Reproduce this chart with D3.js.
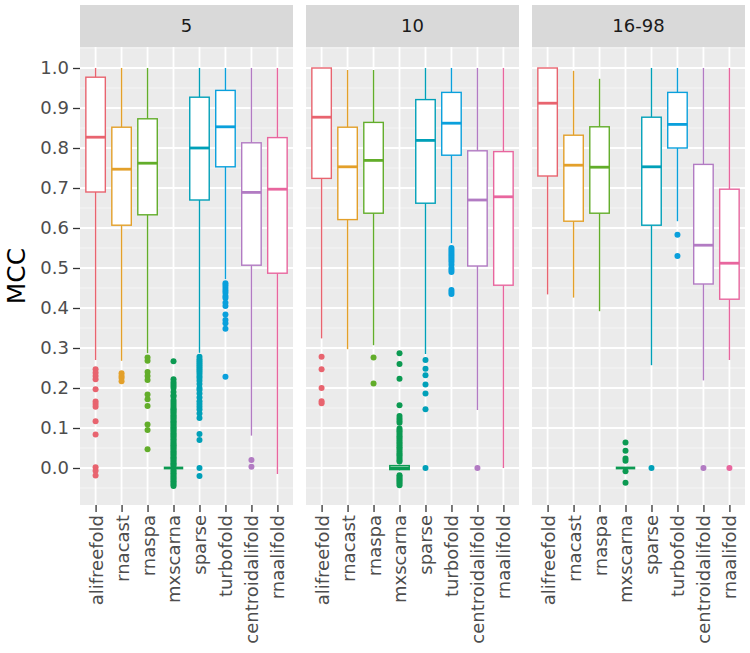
<!DOCTYPE html>
<html>
<head>
<meta charset="utf-8">
<script src="https://cdn.jsdelivr.net/npm/d3@7"></script>
<style>
  html, body { margin: 0; padding: 0; background: #fff; }
  svg { display: block; }
  text { font-family: "DejaVu Sans", sans-serif; }
</style>
</head>
<body>
<svg id="chart" width="750" height="653"></svg>
<script>
// ---------- data ----------
const methods = ["alifreefold", "rnacast", "rnaspa", "mxscarna", "sparse", "turbofold", "centroidalifold", "rnaalifold"];
const facets = ["5", "10", "16-98"];
const colors = ["#E8646F", "#E3A02A", "#62AD2A", "#0C9A52", "#00A0B8", "#0AA0DC", "#B27BC3", "#E8669E"];
const yTicks = [0.0, 0.1, 0.2, 0.3, 0.4, 0.5, 0.6, 0.7, 0.8, 0.9, 1.0];

// [lower whisker, Q1, median, Q3, upper whisker] per method
const stats5 = [
  [0.270, 0.690, 0.827, 0.977, 1.000],
  [0.268, 0.607, 0.747, 0.852, 1.000],
  [0.287, 0.633, 0.762, 0.873, 1.000],
  [0.000, 0.000, 0.000, 0.000, 0.000],
  [0.288, 0.670, 0.800, 0.927, 1.000],
  [0.472, 0.753, 0.853, 0.944, 1.000],
  [0.081, 0.507, 0.689, 0.813, 1.000],
  [-0.015, 0.487, 0.697, 0.826, 1.000]
];
const stats10 = [
  [0.324, 0.724, 0.877, 1.000, 1.000],
  [0.297, 0.621, 0.753, 0.852, 0.995],
  [0.307, 0.637, 0.769, 0.864, 0.995],
  [-0.006, -0.004, 0.000, 0.006, 0.008],
  [0.285, 0.662, 0.819, 0.921, 1.000],
  [0.562, 0.782, 0.862, 0.939, 1.000],
  [0.145, 0.505, 0.670, 0.793, 1.000],
  [0.000, 0.457, 0.678, 0.791, 1.000]
];
const stats16 = [
  [0.434, 0.730, 0.912, 1.000, 1.000],
  [0.426, 0.617, 0.757, 0.832, 0.993],
  [0.392, 0.637, 0.752, 0.853, 0.973],
  [0.000, 0.000, 0.000, 0.000, 0.000],
  [0.257, 0.607, 0.753, 0.877, 1.000],
  [0.617, 0.800, 0.859, 0.939, 1.000],
  [0.219, 0.460, 0.557, 0.759, 1.000],
  [0.270, 0.422, 0.512, 0.697, 1.000]
];

// outliers per method
const outliers5 = [
  [0.247, 0.238, 0.230, 0.222, 0.197, 0.166, 0.160, 0.153, 0.117, 0.084, 0.002, -0.007, -0.019],
  [0.237, 0.230, 0.225, 0.217],
  [0.276, 0.268, 0.240, 0.230, 0.220, 0.184, 0.172, 0.155, 0.109, 0.095, 0.047],
  [0.267, 0.222, 0.215, 0.210, 0.205, 0.200, 0.190, 0.182, 0.178, 0.170, 0.165, 0.160, 0.155, 0.150, 0.147, 0.143, 0.140, 0.136, 0.132, 0.128, 0.125, 0.121, 0.117, 0.114, 0.110, 0.106, 0.102, 0.099, 0.095, 0.091, 0.087, 0.083, 0.080, 0.076, 0.072, 0.068, 0.064, 0.060, 0.057, 0.053, 0.050, 0.046, 0.042, 0.038, 0.035, 0.031, 0.027, 0.024, 0.020, 0.016, 0.012, 0.009, 0.005, -0.005, -0.009, -0.013, -0.017, -0.021, -0.025, -0.029, -0.033, -0.037, -0.041, -0.045],
  [0.278, 0.272, 0.267, 0.262, 0.257, 0.252, 0.247, 0.242, 0.236, 0.230, 0.225, 0.218, 0.210, 0.200, 0.195, 0.186, 0.176, 0.167, 0.160, 0.153, 0.146, 0.136, 0.125, 0.085, 0.070, 0.000, -0.020],
  [0.462, 0.456, 0.450, 0.444, 0.438, 0.430, 0.425, 0.413, 0.405, 0.384, 0.370, 0.362, 0.348, 0.228],
  [0.020, 0.003],
  []
];
const outliers10 = [
  [0.278, 0.247, 0.200, 0.167, 0.162],
  [],
  [0.276, 0.211],
  [0.287, 0.260, 0.223, 0.157, 0.130, 0.124, 0.118, 0.113, 0.099, 0.094, 0.090, 0.085, 0.080, 0.076, 0.071, 0.066, 0.062, 0.057, 0.052, 0.048, 0.043, 0.038, 0.034, 0.030, 0.025, 0.020, 0.016, -0.018, -0.022, -0.026, -0.030, -0.034, -0.038, -0.043],
  [0.270, 0.248, 0.232, 0.209, 0.186, 0.147, 0.000],
  [0.550, 0.545, 0.540, 0.535, 0.530, 0.525, 0.520, 0.515, 0.508, 0.500, 0.495, 0.490, 0.445, 0.440, 0.435],
  [0.000],
  []
];
const outliers16 = [
  [],
  [],
  [],
  [0.064, 0.043, 0.024, 0.018, -0.008, -0.037],
  [0.000],
  [0.583, 0.530],
  [0.000],
  [0.000]
];

const facetStats = [stats5, stats10, stats16];
const facetOutliers = [outliers5, outliers10, outliers16];

// ---------- layout ----------
const svg = d3.select("#chart");
const panelLeft = [80, 306, 532];
const panelW = 213;
const stripTop = 5, stripH = 42;
const plotTop = 47, plotBottom = 505;

const y = d3.scaleLinear().domain([-0.0925, 1.0525]).range([plotBottom, plotTop]);
const minorTicks = [-0.05, 0.05, 0.15, 0.25, 0.35, 0.45, 0.55, 0.65, 0.75, 0.85, 0.95, 1.05];

facets.forEach((f, fi) => {
  const x0 = panelLeft[fi];
  const x = d3.scalePoint().domain(methods).range([x0, x0 + panelW]).padding(0.6);
  const bw = x.step() * 0.75;
  const g = svg.append("g");

  // panel background
  g.append("rect").attr("x", x0).attr("y", plotTop).attr("width", panelW).attr("height", plotBottom - plotTop).attr("fill", "#EBEBEB");
  // minor grid
  g.selectAll(".minor").data(minorTicks.filter(v => y(v) > plotTop && y(v) < plotBottom)).join("line")
    .attr("x1", x0).attr("x2", x0 + panelW).attr("y1", d => y(d)).attr("y2", d => y(d))
    .attr("stroke", "#F5F5F5").attr("stroke-width", 1);
  // major grid
  g.selectAll(".major").data(yTicks).join("line")
    .attr("x1", x0).attr("x2", x0 + panelW).attr("y1", d => y(d)).attr("y2", d => y(d))
    .attr("stroke", "#FFFFFF").attr("stroke-width", 1.8);
  g.selectAll(".vgrid").data(methods).join("line")
    .attr("x1", d => x(d)).attr("x2", d => x(d)).attr("y1", plotTop).attr("y2", plotBottom)
    .attr("stroke", "#FFFFFF").attr("stroke-width", 1.8);

  // strip
  g.append("rect").attr("x", x0).attr("y", stripTop).attr("width", panelW).attr("height", stripH).attr("fill", "#D9D9D9");
  g.append("text").attr("x", x0 + panelW / 2).attr("y", stripTop + stripH / 2).attr("dy", "0.36em")
    .attr("text-anchor", "middle").attr("font-size", 18).attr("fill", "#1A1A1A").text(f);

  const stats = facetStats[fi];
  const outs = facetOutliers[fi];

  methods.forEach((m, mi) => {
    const [lo, q1, med, q3, hi] = stats[mi];
    const col = colors[mi];
    const cx = x(m);
    const bg = g.append("g");
    // outliers
    bg.selectAll("circle").data(outs[mi]).join("circle")
      .attr("cx", cx).attr("cy", d => y(d)).attr("r", 3).attr("fill", col);
    // whiskers
    bg.append("line").attr("x1", cx).attr("x2", cx).attr("y1", y(q3)).attr("y2", y(hi))
      .attr("stroke", col).attr("stroke-width", 1.4);
    bg.append("line").attr("x1", cx).attr("x2", cx).attr("y1", y(q1)).attr("y2", y(lo))
      .attr("stroke", col).attr("stroke-width", 1.4);
    // box
    bg.append("rect").attr("x", cx - bw / 2).attr("y", y(q3)).attr("width", bw)
      .attr("height", Math.max(0, y(q1) - y(q3)))
      .attr("fill", "#FFFFFF").attr("stroke", col).attr("stroke-width", 1.4);
    // median
    bg.append("line").attr("x1", cx - bw / 2).attr("x2", cx + bw / 2).attr("y1", y(med)).attr("y2", y(med))
      .attr("stroke", col).attr("stroke-width", 2.8);
  });

  // x axis
  const xa = svg.append("g").attr("transform", `translate(0,${plotBottom})`)
    .call(d3.axisBottom(x).tickSize(7).tickPadding(4));
  xa.select(".domain").remove();
  xa.selectAll(".tick line").attr("stroke", "#333333").attr("stroke-width", 1.3);
  xa.selectAll(".tick text")
    .attr("font-family", "DejaVu Sans, sans-serif").attr("font-size", 18).attr("fill", "#4D4D4D")
    .attr("transform", "rotate(-90)")
    .attr("text-anchor", "end").attr("x", -10).attr("y", 0).attr("dy", "0.36em");
});

// y axis
const ya = svg.append("g").attr("transform", `translate(${panelLeft[0]},0)`)
  .call(d3.axisLeft(y).tickValues(yTicks).tickFormat(d3.format(".1f")).tickSize(7).tickPadding(4));
ya.select(".domain").remove();
ya.selectAll(".tick line").attr("stroke", "#333333").attr("stroke-width", 1.3);
ya.selectAll(".tick text").attr("font-family", "DejaVu Sans, sans-serif").attr("font-size", 18).attr("fill", "#4D4D4D");

// y title
svg.append("text").attr("transform", `translate(16,${(plotTop + plotBottom) / 2}) rotate(-90)`)
  .attr("text-anchor", "middle").attr("dy", "0.36em").attr("font-size", 25).attr("fill", "#000000").text("MCC");
</script>
</body>
</html>
